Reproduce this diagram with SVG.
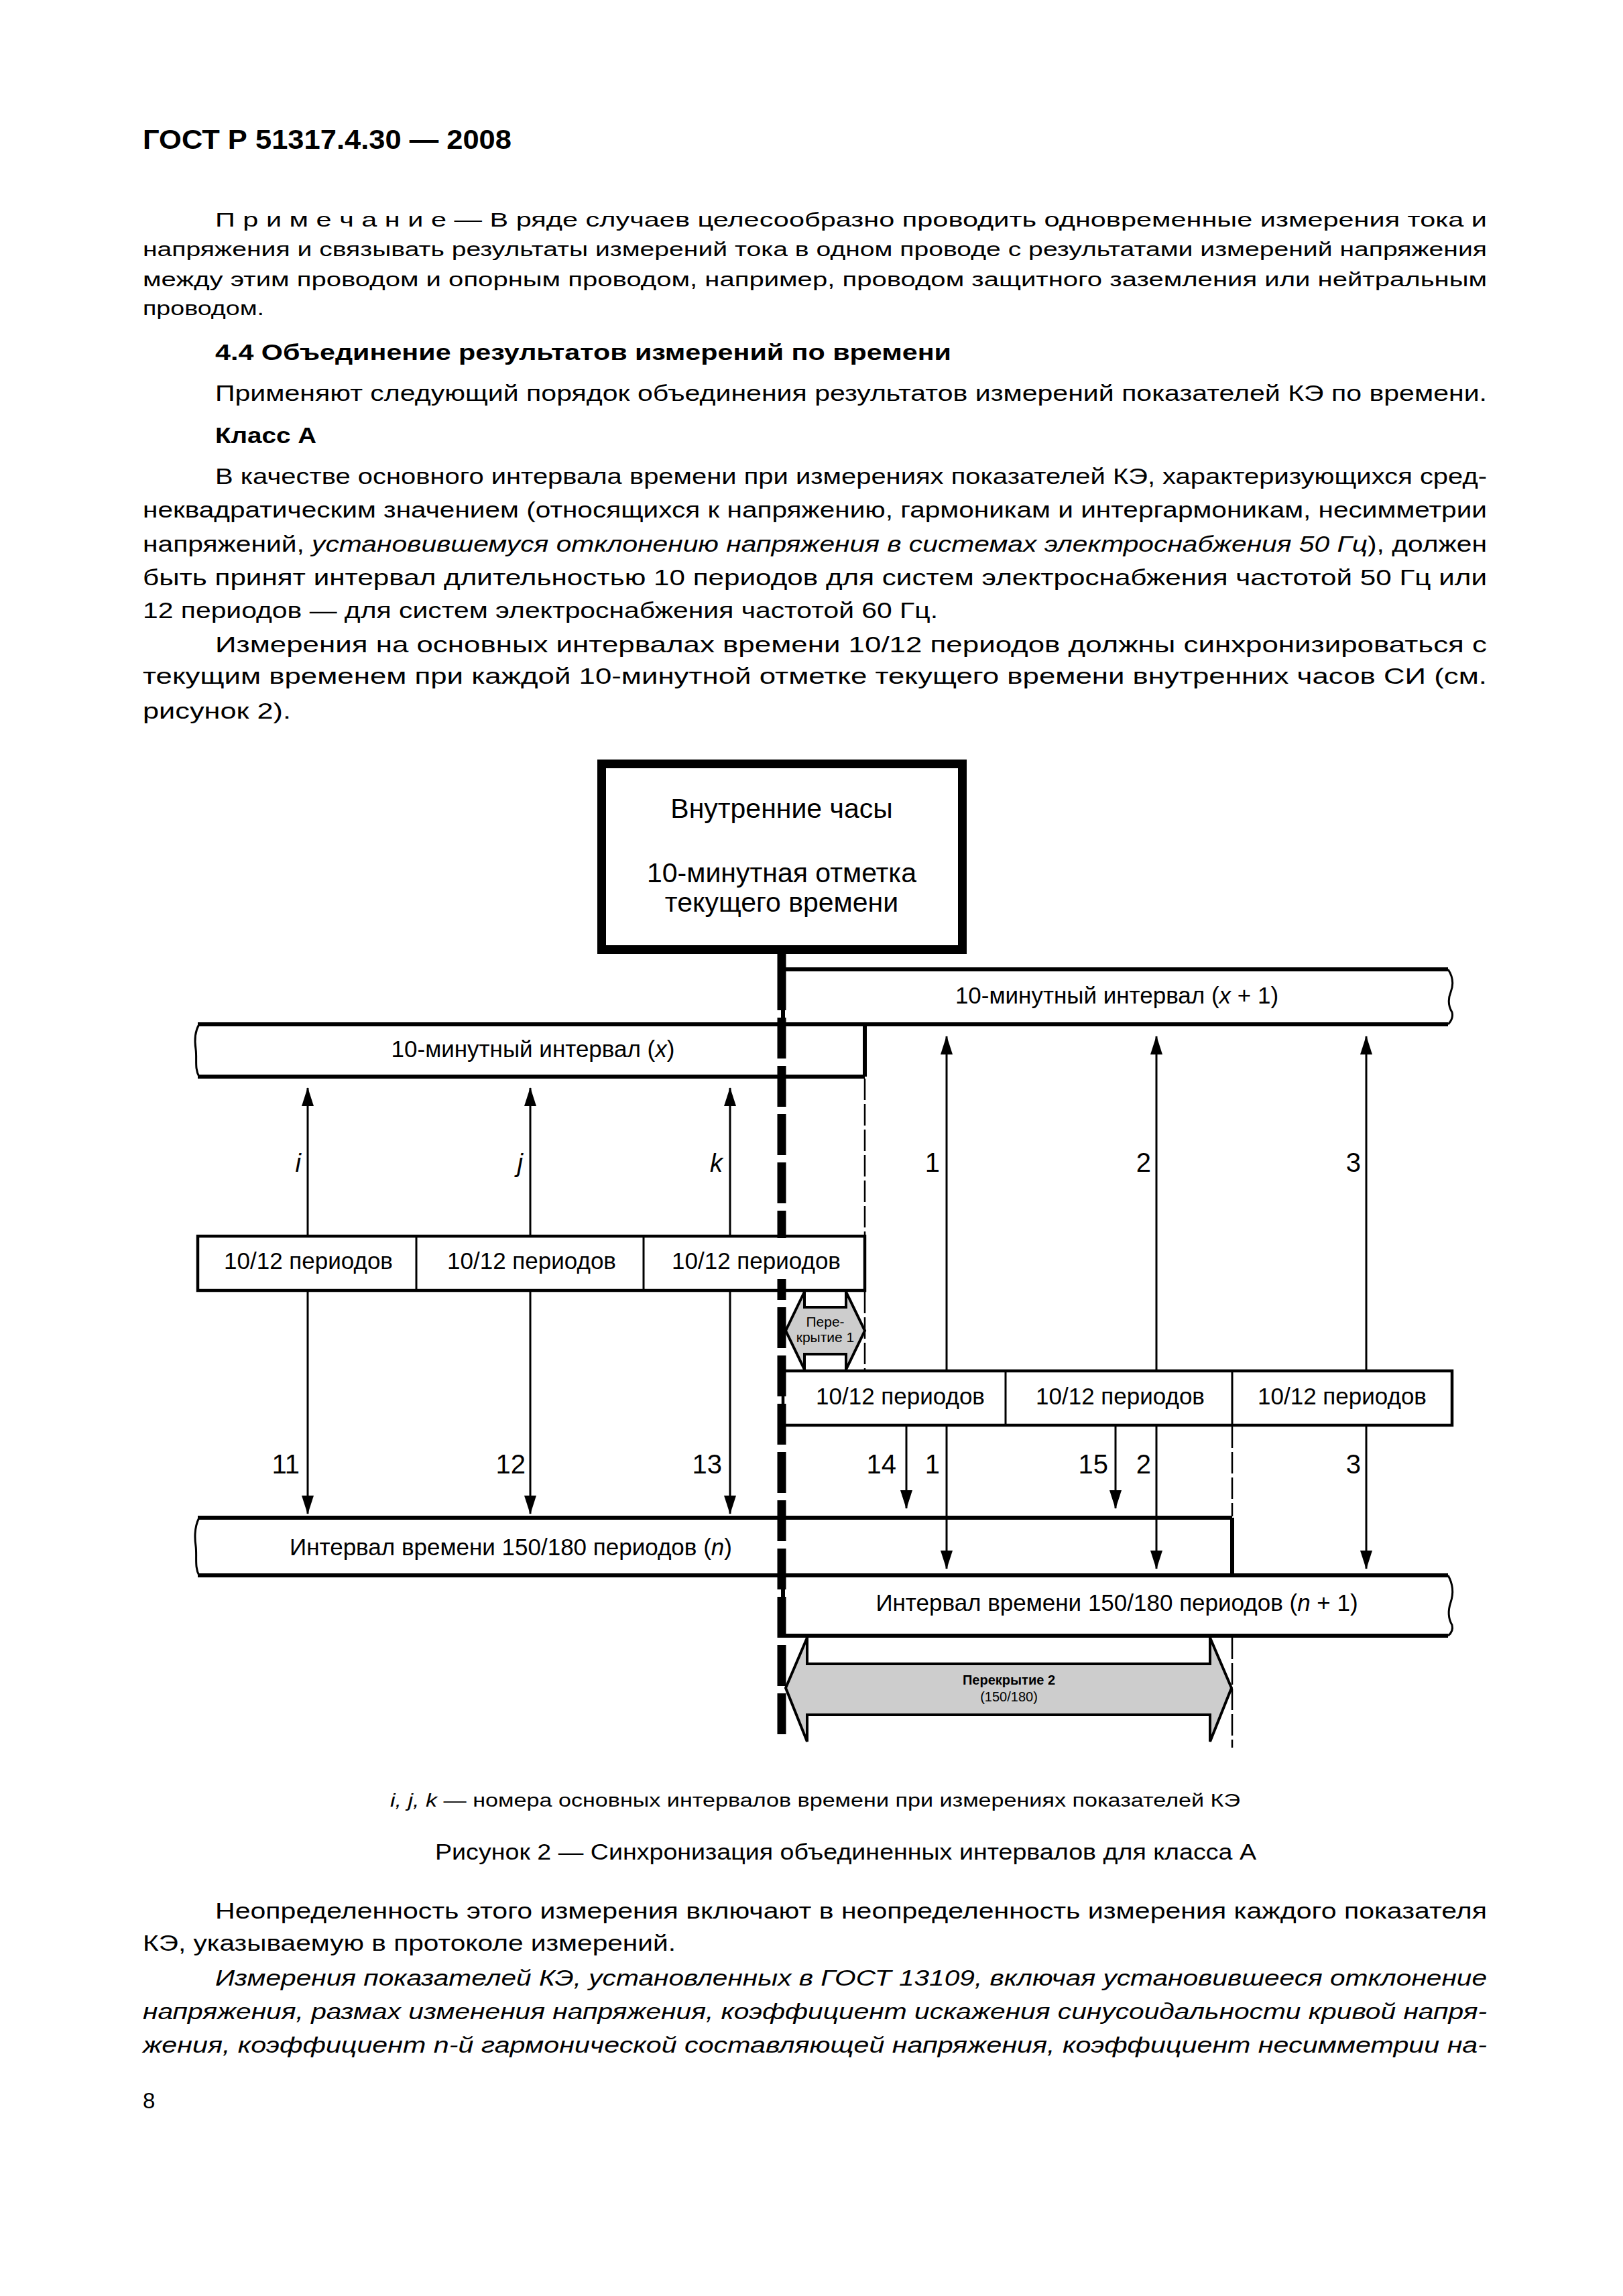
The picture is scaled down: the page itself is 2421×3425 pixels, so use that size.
<svg xmlns="http://www.w3.org/2000/svg" width="2421" height="3425" viewBox="0 0 2421 3425">
<style>
text{font-family:"Liberation Sans",Arial,sans-serif;fill:#000}
.b{font-weight:bold}
.i{font-style:italic}
.p{font-size:33px}
.n{font-size:30px}
.d{font-size:35px}
.lbl{font-size:40px}
.c{text-anchor:middle}
.e{text-anchor:end}
.bar{stroke:#000;stroke-width:6;fill:none}
.cell{stroke:#000;stroke-width:4.5;fill:none}
.cellw{stroke:#000;stroke-width:4.5;fill:#fff}
.div{stroke:#000;stroke-width:3;fill:none}
.arr{stroke:#000;stroke-width:3;fill:none}
.dsh{stroke:#000;stroke-width:2.5;fill:none;stroke-dasharray:32 6}
.ovl{fill:#cdcdcd;stroke:#000;stroke-width:4;stroke-linejoin:miter}
</style>
<defs>
<marker id="ah" viewBox="0 0 28 18" refX="27" refY="9" markerWidth="28" markerHeight="18" markerUnits="userSpaceOnUse" orient="auto-start-reverse"><path d="M0,0 L28,9 L0,18 z" fill="#000"/></marker>
</defs>
<rect width="2421" height="3425" fill="#fff"/>

<g id="page-text">
<text class="b" x="213" y="222" font-size="40" textLength="550" lengthAdjust="spacingAndGlyphs">ГОСТ Р 51317.4.30 — 2008</text>
<text class="n" x="321" y="338" textLength="1897" lengthAdjust="spacingAndGlyphs">П р и м е ч а н и е — В ряде случаев целесообразно проводить одновременные измерения тока и</text>
<text class="n" x="213" y="382" textLength="2005" lengthAdjust="spacingAndGlyphs">напряжения и связывать результаты измерений тока в одном проводе с результатами измерений напряжения</text>
<text class="n" x="213" y="427" textLength="2005" lengthAdjust="spacingAndGlyphs">между этим проводом и опорным проводом, например, проводом защитного заземления или нейтральным</text>
<text class="n" x="213" y="470" textLength="181" lengthAdjust="spacingAndGlyphs">проводом.</text>
<text class="p b" x="321" y="537" textLength="1098" lengthAdjust="spacingAndGlyphs">4.4 Объединение результатов измерений по времени</text>
<text class="p" x="321" y="598" textLength="1897" lengthAdjust="spacingAndGlyphs">Применяют следующий порядок объединения результатов измерений показателей КЭ по времени.</text>
<text class="p b" x="321" y="661" textLength="151" lengthAdjust="spacingAndGlyphs">Класс А</text>
<text class="p" x="321" y="722" textLength="1897" lengthAdjust="spacingAndGlyphs">В качестве основного интервала времени при измерениях показателей КЭ, характеризующихся сред-</text>
<text class="p" x="213" y="772" textLength="2005" lengthAdjust="spacingAndGlyphs">неквадратическим значением (относящихся к напряжению, гармоникам и интергармоникам, несимметрии</text>
<text class="p" x="213" y="823" textLength="2005" lengthAdjust="spacingAndGlyphs">напряжений, <tspan class="i">установившемуся отклонению напряжения в системах электроснабжения 50 Гц</tspan>), должен</text>
<text class="p" x="213" y="873" textLength="2005" lengthAdjust="spacingAndGlyphs">быть принят интервал длительностью 10 периодов для систем электроснабжения частотой 50 Гц или</text>
<text class="p" x="213" y="922" textLength="1186" lengthAdjust="spacingAndGlyphs">12 периодов — для систем электроснабжения частотой 60 Гц.</text>
<text class="p" x="321" y="973" textLength="1897" lengthAdjust="spacingAndGlyphs">Измерения на основных интервалах времени 10/12 периодов должны синхронизироваться с</text>
<text class="p" x="213" y="1020" textLength="2005" lengthAdjust="spacingAndGlyphs">текущим временем при каждой 10-минутной отметке текущего времени внутренних часов СИ (см.</text>
<text class="p" x="213" y="1072" textLength="221" lengthAdjust="spacingAndGlyphs">рисунок 2).</text>

<text x="582" y="2695" font-size="28" textLength="1268" lengthAdjust="spacingAndGlyphs"><tspan class="i">i, j, k</tspan> — номера основных интервалов времени при измерениях показателей КЭ</text>
<text x="649" y="2774" font-size="33" textLength="1225" lengthAdjust="spacingAndGlyphs">Рисунок 2 — Синхронизация объединенных интервалов для класса А</text>

<text class="p" x="321" y="2862" textLength="1897" lengthAdjust="spacingAndGlyphs">Неопределенность этого измерения включают в неопределенность измерения каждого показателя</text>
<text class="p" x="213" y="2910" textLength="795" lengthAdjust="spacingAndGlyphs">КЭ, указываемую в протоколе измерений.</text>
<text class="p i" x="321" y="2962" textLength="1897" lengthAdjust="spacingAndGlyphs">Измерения показателей КЭ, установленных в ГОСТ 13109, включая установившееся отклонение</text>
<text class="p i" x="213" y="3012" textLength="2005" lengthAdjust="spacingAndGlyphs">напряжения, размах изменения напряжения, коэффициент искажения синусоидальности кривой напря-</text>
<text class="p i" x="213" y="3062" textLength="2005" lengthAdjust="spacingAndGlyphs">жения, коэффициент n-й гармонической составляющей напряжения, коэффициент несимметрии на-</text>
<text class="p" x="213" y="3145">8</text>
</g>

<g id="clock">
<rect x="897.5" y="1139.5" width="538" height="277" fill="#fff" stroke="#000" stroke-width="13"/>
<text class="c" x="1166" y="1220" font-size="41">Внутренние часы</text>
<text class="c" x="1166" y="1316" font-size="41">10-минутная отметка</text>
<text class="c" x="1166" y="1360" font-size="41">текущего времени</text>
</g>

<g id="interval-x1">
<path class="bar" d="M1168,1446 H2160"/>
<path class="bar" d="M1168,1446 V1528"/>
<path class="div" d="M2160,1446 C2168,1458 2168,1470 2164,1480 C2160,1490 2160,1500 2166,1510 C2168,1518 2164,1524 2160,1528"/>
<text class="d c" x="1666" y="1497">10-минутный интервал (<tspan class="i">x</tspan> + 1)</text>
</g>

<g id="interval-x">
<path class="bar" d="M295,1528 H2160"/>
<path class="bar" d="M295,1606 H1290"/>
<path class="bar" d="M1290,1528 V1606"/>
<path class="div" d="M297,1528 C290,1540 290,1552 292,1565 C294,1580 290,1594 297,1606"/>
<text class="d c" x="795" y="1577">10-минутный интервал (<tspan class="i">x</tspan>)</text>
</g>

<g id="interval-n">
<path class="bar" d="M295,2264 H1838"/>
<path class="bar" d="M295,2350 H2160"/>
<path class="bar" d="M1838,2264 V2350"/>
<path class="div" d="M297,2264 C290,2278 290,2292 292,2306 C294,2322 290,2338 297,2350"/>
<text class="d c" x="762" y="2320">Интервал времени 150/180 периодов (<tspan class="i">n</tspan>)</text>
</g>

<g id="interval-n1">
<path class="bar" d="M1168,2440 H2160"/>
<path class="bar" d="M1168,2350 V2440"/>
<path class="div" d="M2160,2350 C2168,2364 2168,2378 2164,2390 C2160,2402 2160,2414 2166,2424 C2168,2432 2164,2437 2160,2440"/>
<text class="d c" x="1666" y="2403">Интервал времени 150/180 периодов (<tspan class="i">n</tspan> + 1)</text>
</g>

<g id="connectors">
<path class="dsh" d="M1290,1609 V1842"/>
<path class="dsh" d="M1290,1927 V2043"/>
<path class="dsh" d="M1838,2128 V2262"/>
<path class="dsh" d="M1838,2443 V2607"/>
<path class="arr" d="M459,1844 V1623" marker-end="url(#ah)"/>
<path class="arr" d="M791,1844 V1623" marker-end="url(#ah)"/>
<path class="arr" d="M1089,1844 V1623" marker-end="url(#ah)"/>
<path class="arr" d="M459,1927 V2258" marker-end="url(#ah)"/>
<path class="arr" d="M791,1927 V2258" marker-end="url(#ah)"/>
<path class="arr" d="M1089,1927 V2258" marker-end="url(#ah)"/>
<path class="arr" d="M1412,1546 V2340" marker-start="url(#ah)" marker-end="url(#ah)"/>
<path class="arr" d="M1725,1546 V2340" marker-start="url(#ah)" marker-end="url(#ah)"/>
<path class="arr" d="M2038,1546 V2340" marker-start="url(#ah)" marker-end="url(#ah)"/>
<path class="arr" d="M1352,2128 V2250" marker-end="url(#ah)"/>
<path class="arr" d="M1664,2128 V2250" marker-end="url(#ah)"/>
</g>

<g id="labels">
<text class="i e" x="449" y="1748" font-size="38">i</text>
<text class="i e" x="780" y="1748" font-size="38">j</text>
<text class="i e" x="1078" y="1748" font-size="38">k</text>
<text class="lbl e" x="1402" y="1748">1</text>
<text class="lbl e" x="1717" y="1748">2</text>
<text class="lbl e" x="2030" y="1748">3</text>
<text class="lbl e" x="447" y="2198">11</text>
<text class="lbl e" x="784" y="2198">12</text>
<text class="lbl e" x="1077" y="2198">13</text>
<text class="lbl e" x="1337" y="2198">14</text>
<text class="lbl e" x="1402" y="2198">1</text>
<text class="lbl e" x="1653" y="2198">15</text>
<text class="lbl e" x="1717" y="2198">2</text>
<text class="lbl e" x="2030" y="2198">3</text>
</g>

<g id="row1">
<rect class="cell" x="295" y="1844" width="995" height="81"/>
<path class="div" d="M621,1844 V1925 M960,1844 V1925"/>
<text class="d c" x="460" y="1893">10/12 периодов</text>
<text class="d c" x="793" y="1893">10/12 периодов</text>
</g>

<g id="row2">
<rect class="cellw" x="1168" y="2045" width="998" height="81"/>
<path class="div" d="M1500,2045 V2126 M1838,2045 V2126"/>
<text class="d c" x="1343" y="2095">10/12 периодов</text>
<text class="d c" x="1671" y="2095">10/12 периодов</text>
<text class="d c" x="2002" y="2095">10/12 периодов</text>
</g>

<g id="overlap1">
<polygon class="ovl" points="1172,1985 1200,1927 1200,1950 1262,1950 1262,1927 1290,1985 1262,2043 1262,2020 1200,2020 1200,2043"/>
<text class="c" x="1231" y="1979" font-size="21">Пере-</text>
<text class="c" x="1231" y="2002" font-size="21">крытие 1</text>
</g>

<g id="overlap2">
<polygon class="ovl" points="1172,2518 1204,2443 1204,2482 1805,2482 1805,2443 1837,2518 1805,2598 1805,2558 1204,2558 1204,2598"/>
<text class="c b" x="1505" y="2513" font-size="20">Перекрытие 2</text>
<text class="c" x="1505" y="2538" font-size="20">(150/180)</text>
</g>

<g id="sync-line">
<path d="M1166,1423 V1507" stroke="#000" stroke-width="13"/>
<path d="M1166,1518 V2587" stroke="#000" stroke-width="13" stroke-dasharray="61 11"/>
<rect x="1157" y="1847" width="19" height="61" fill="#fff"/>
</g>

<g id="row1-cell3">
<text class="d c" x="1128" y="1893">10/12 периодов</text>
</g>
</svg>
